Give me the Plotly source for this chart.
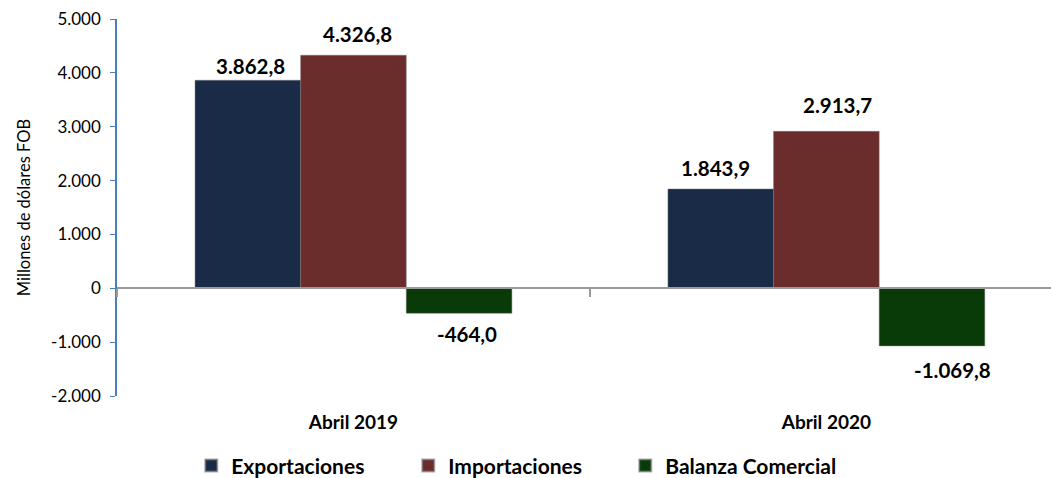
import plotly.graph_objects as go

categories = ["Abril 2019", "Abril 2020"]
exportaciones = [3862.8, 1843.9]
importaciones = [4326.8, 2913.7]
balanza = [-464.0, -1069.8]
y_ticks = [5000, 4000, 3000, 2000, 1000, 0, -1000, -2000]

# label placement (pixel offsets from the bar end), per series / category
label_dx = [[3, -5], [4, 11], [8, 21]]
label_dy = [[14, 21], [21, 26], [-21, -24]]

def fmt(v, dec=1):
    s = f"{abs(v):,.{dec}f}".replace(",", "X").replace(".", ",").replace("X", ".")
    return ("-" if v < 0 else "") + s

series = [
    ("Exportaciones", exportaciones, "#1A2B47"),
    ("Importaciones", importaciones, "#6B2C2C"),
    ("Balanza Comercial", balanza, "#083B08"),
]

FONT = "Lato, 'Open Sans', sans-serif"
BARGAP = 0.33
bw = (1 - BARGAP) / len(series)

fig = go.Figure()
annotations = []
for i, (name, vals, col) in enumerate(series):
    fig.add_trace(go.Bar(
        x=categories, y=vals, name=name,
        marker=dict(color=col, line=dict(color="rgba(120,120,120,0.6)", width=0.8)),
    ))
    for j, v in enumerate(vals):
        annotations.append(dict(
            x=j + (i - 1) * bw, y=v, xref="x2", yref="y",
            text=fmt(v), showarrow=False, xanchor="center", yanchor="middle",
            xshift=label_dx[i][j], yshift=label_dy[i][j],
            font=dict(family=FONT, size=20.5, color="black", weight="bold"),
        ))

# helper trace so the zero-line axis (x2) is drawn
fig.add_trace(go.Scatter(x=[0, 1], y=[None, None], xaxis="x2", yaxis="y",
                         showlegend=False, hoverinfo="skip", mode="lines"))

fig.update_layout(
    width=1051, height=478,
    margin=dict(l=117, r=0, t=19, b=82, autoexpand=False),
    paper_bgcolor="white", plot_bgcolor="white",
    barmode="group", bargap=BARGAP, bargroupgap=0,
    font=dict(family=FONT, size=16, color="black"),
    showlegend=True,
    annotations=annotations,
    legend=dict(orientation="h", x=0.428, xanchor="center", y=-0.185, yanchor="middle",
                font=dict(family=FONT, size=21, color="black", weight="bold"),
                entrywidth=172, itemsizing="constant"),
    xaxis=dict(range=[-0.5, 1.475], showline=False, showgrid=False, zeroline=False,
               automargin=False,
               ticks="outside", ticklen=9, tickcolor="rgba(0,0,0,0)",
               tickfont=dict(family=FONT, size=19, color="black", weight="bold")),
    xaxis2=dict(type="linear", range=[-0.5, 1.475], overlaying="x", anchor="free", position=2/7,
                showline=True, linecolor="#9A9A9A", linewidth=2, automargin=False,
                tickmode="array", tickvals=[-0.5, 0.5], ticks="outside", ticklen=8, tickwidth=2,
                tickcolor="#9A9A9A", showticklabels=False, showgrid=False, zeroline=False),
    yaxis=dict(range=[-2000, 5000], tickmode="array", tickvals=y_ticks,
               ticktext=[fmt(v, 0) for v in y_ticks], automargin=False,
               showline=True, linecolor="#4A7EBB", linewidth=1.5,
               ticks="outside", ticklen=5, tickcolor="#4A7EBB",
               ticklabelstandoff=6,
               showgrid=False, zeroline=False,
               tickfont=dict(family=FONT, size=17, color="black"),
               title=dict(text="Millones de dólares FOB", standoff=16,
                          font=dict(family=FONT, size=16.5, color="black"))),
)

fig.write_html("out.html", config={"displayModeBar": False},
               post_script="document.body.style.margin='0px';")
